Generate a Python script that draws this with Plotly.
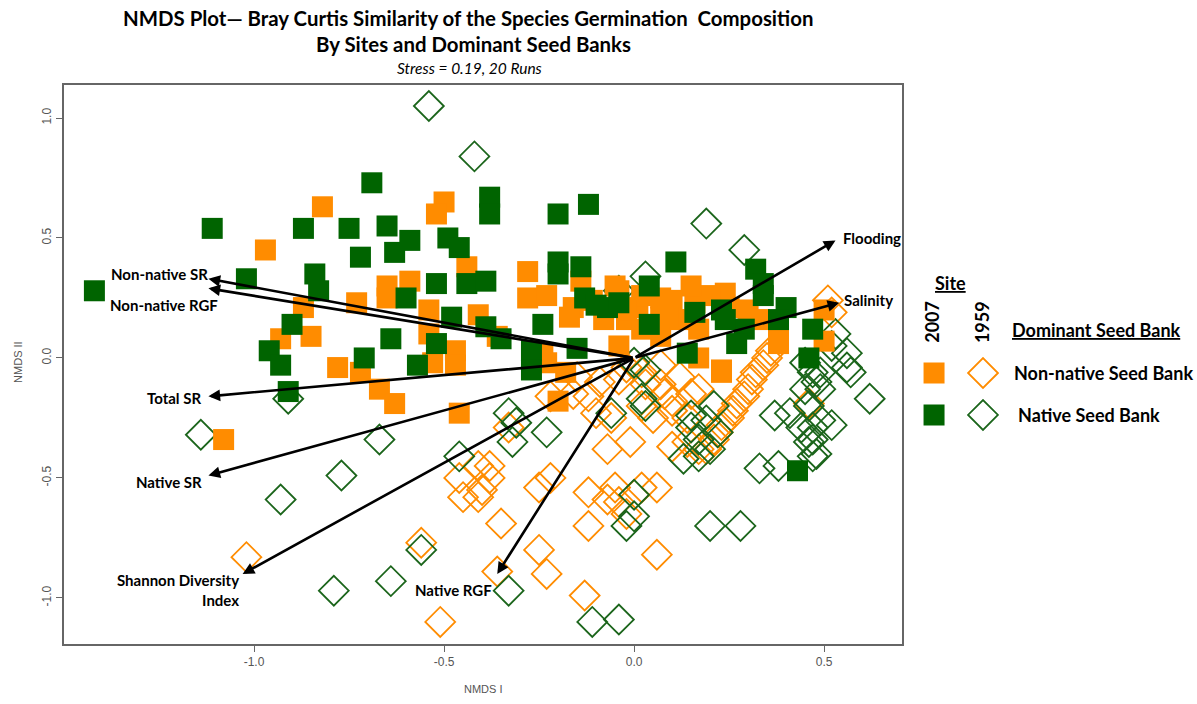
import plotly.graph_objects as go

# ---------------- data (NMDS scores) ----------------
# 2007 site, Non-native dominant seed bank (filled orange squares)
nn07_x = [-0.97, -0.82, -0.87, -0.93, -0.85, -1.08, -0.73, -0.78, -0.72, -0.67, -0.63, -0.65, -0.59, -0.65,
          -0.54, -0.54, -0.53, -0.47, -0.50, -0.52, -0.44, -0.41, -0.36, -0.47, -0.46, -0.28, -0.28, -0.23,
          -0.14, -0.16, -0.17, -0.24, -0.20, -0.18, -0.23, -0.05, -0.04, -0.02, 0.01, 0.07, 0.07, 0.10, 0.16,
          0.07, 0.04, 0.17, 0.23, 0.25, 0.30, 0.38, 0.38, 0.50, 0.50, -0.04, 0.24, 0.17, 0.23, 0.02, -0.08,
          0.12, 0.20, 0.15, 0.33, 0.02, -0.11, -0.02, 0.09]
nn07_y = [0.45, 0.63, 0.21, 0.08, 0.09, -0.34, 0.23, -0.04, -0.06, -0.13, -0.19, 0.30, 0.32, 0.25,
          0.20, 0.10, -0.02, 0.03, 0.65, 0.60, 0.38, 0.18, 0.09, -0.03, -0.23, 0.36, 0.25, 0.26,
          0.32, 0.21, 0.17, 0.02, -0.18, -0.06, -0.02, 0.30, 0.28, 0.16, 0.21, 0.25, 0.17, 0.24, 0.23,
          0.09, 0.13, 0.12, -0.05, 0.21, 0.20, 0.06, 0.10, 0.07, 0.20, 0.05, 0.27, 0.00, -0.06, 0.26, 0.16,
          0.16, 0.26, 0.30, 0.16, 0.12, 0.24, 0.20, 0.17]

# 2007 site, Native dominant seed bank (filled green squares)
nat07_x = [-1.42, -1.11, -1.02, -0.87, -0.84, -0.83, -0.90, -0.96, -0.93, -0.91, -0.69, -0.75, -0.65, -0.59,
           -0.63, -0.72, -0.38, -0.38, -0.49, -0.46, -0.20, -0.12, -0.60, -0.52, -0.44, -0.39, -0.48, -0.52,
           -0.57, -0.64, -0.71, -0.39, -0.35, -0.20, -0.20, -0.14, -0.13, -0.10, -0.24, -0.15, -0.27, -0.27,
           0.11, 0.32, 0.34, 0.34, 0.40, 0.38, 0.29, 0.23, 0.16, 0.14, -0.07, -0.04, 0.04, 0.04, 0.27, 0.47,
           0.46, 0.43, 0.24]
nat07_y = [0.28, 0.54, 0.33, 0.54, 0.35, 0.28, 0.14, 0.03, -0.03, -0.14, 0.73, 0.54, 0.55, 0.49,
           0.44, 0.42, 0.67, 0.60, 0.50, 0.46, 0.60, 0.64, 0.25, 0.31, 0.31, 0.32, 0.17, 0.06,
           -0.03, 0.08, 0.00, 0.13, 0.08, 0.40, 0.35, 0.38, 0.25, 0.22, 0.14, 0.04, 0.03, -0.05,
           0.40, 0.37, 0.31, 0.26, 0.21, 0.16, 0.12, 0.20, 0.19, 0.02, 0.21, 0.23, 0.30, 0.14, 0.06, 0.12,
           0.00, -0.47, 0.16]

# 1959 site, Non-native dominant seed bank (open orange diamonds)
nn59_x = [-1.02, -0.33, -0.41, -0.38, -0.46, -0.45, -0.41, -0.35, -0.25, -0.22, -0.25, -0.56, -0.12, -0.12,
          -0.07, -0.07, -0.01, -0.10, -0.12, -0.22, -0.15, -0.09, -0.04, 0.02, 0.03, 0.02, -0.04, -0.02,
          0.06, -0.51, -0.36, -0.23, -0.13, 0.06, 0.10, 0.07, 0.12, 0.02, -0.16, -0.06, -0.05, 0.10, 0.14,
          0.17, 0.17, 0.46, 0.51, 0.52, -0.38, -0.40, -0.02, 0.07, 0.15, 0.08, 0.10, 0.05, 0.14,
          0.19, 0.21, 0.22, 0.23, 0.25, 0.26, 0.27, 0.29, 0.30, 0.31, 0.32, 0.34, 0.35, 0.36]
nn59_y = [-0.83, -0.29, -0.45, -0.50, -0.50, -0.58, -0.58, -0.69, -0.54, -0.50, -0.80, -0.77, -0.56, -0.70,
          -0.59, -0.38, -0.35, -0.23, -0.16, -0.16, -0.08, -0.10, -0.09, -0.20, -0.11, -0.54, -0.60, -0.65,
          -0.54, -1.10, -0.89, -0.90, -0.99, -0.82, -0.18, -0.11, -0.08, -0.06, -0.15, -0.25, -0.54, -0.37, -0.25,
          -0.38, -0.13, -0.19, 0.24, 0.19, -0.45, -0.55, -0.04, -0.03, -0.15, -0.15, -0.22, -0.25, -0.35,
          -0.38, -0.34, -0.31, -0.28, -0.25, -0.22, -0.19, -0.16, -0.13, -0.09, -0.06, -0.03, 0.00, 0.03]

# 1959 site, Native dominant seed bank (open green diamonds)
nat59_x = [-0.54, -0.42, 0.19, 0.29, 0.03, -0.04, -0.91, -1.14, -0.93, -0.67, -0.77, -0.46, -0.33, -0.31,
           -0.23, -0.32, -0.56, -0.64, -0.79, -0.33, -0.11, -0.04, 0.00, -0.02, 0.20, 0.28, 0.62, 0.33,
           0.38, 0.37, 0.41, 0.46, 0.46, 0.48, 0.52, 0.47, 0.49, 0.56, 0.57, 0.48, 0.03, 0.02, 0.15,
           0.17, 0.13, 0.20, 0.22, 0.19, 0.21, 0.53, 0.56, 0.45, 0.49, 0.47, 0.45, 0.49, 0.47, 0.47,
           0.15, 0.17, -0.06, 0.00, 0.00, 0.03, 0.44, 0.52]
nat59_y = [1.05, 0.84, 0.56, 0.45, 0.34, 0.28, -0.17, -0.32, -0.59, -0.34, -0.49, -0.41, -0.23, -0.27,
           -0.31, -0.35, -0.80, -0.93, -0.97, -0.97, -1.10, -1.09, -0.66, -0.70, -0.70, -0.70, -0.17, -0.46,
           -0.45, -0.24, -0.23, -0.20, -0.35, -0.40, -0.28, -0.29, -0.06, -0.04, -0.06, -0.10, -0.20, -0.17, -0.24,
           -0.41, -0.42, -0.38, -0.31, -0.26, -0.20, 0.10, 0.02, -0.13, -0.13, -0.06, -0.02, -0.26, -0.34, -0.41,
           -0.29, -0.34, -0.23, -0.02, -0.57, -0.05, -0.29, 0.05]

# Environmental / diversity vectors (arrow tips)
vec_names = ["Flooding", "Salinity", "Non-native SR", "Non-native RGF", "Total SR", "Native SR",
             "Shannon Diversity<br>Index", "Native RGF"]
vec_x = [0.53, 0.54, -1.12, -1.12, -1.12, -1.12, -1.03, -0.36]
vec_y = [0.49, 0.23, 0.33, 0.29, -0.16, -0.49, -0.90, -0.90]

x_ticks = [-1.0, -0.5, 0.0, 0.5]
x_ticklabels = ["-1.0", "-0.5", "0.0", "0.5"]
y_ticks = [-1.0, -0.5, 0.0, 0.5, 1.0]
y_ticklabels = ["-1.0", "-0.5", "0.0", "0.5", "1.0"]

# ---------------- styling / layout ----------------
ORANGE = "#FF8C00"
GREEN = "#006400"
GREEN_OPEN = "#1B651B"
LABEL_FONT = dict(family="Lato, Liberation Sans, sans-serif", size=15, color="black")

# label placement (position, anchor) for each vector label, in data units
label_pos = {
    "Flooding": (0.545, 0.50, "left"),
    "Salinity": (0.547, 0.24, "left"),
    "Non-native SR": (-1.115, 0.35, "right"),
    "Non-native RGF": (-1.385, 0.22, "left"),
    "Total SR": (-1.134, -0.165, "right"),
    "Native SR": (-1.132, -0.515, "right"),
    "Shannon Diversity<br>Index": (-1.035, -0.965, "right"),
    "Native RGF": (-0.474, -0.967, "center"),
}

fig = go.Figure()

open_style = dict(size=23, line=dict(width=1.8))
fig.add_trace(go.Scatter(x=nn59_x, y=nn59_y, mode="markers", name="1959 Non-native",
                         marker=dict(symbol="diamond-open", color=ORANGE, **open_style)))
fig.add_trace(go.Scatter(x=nat59_x, y=nat59_y, mode="markers", name="1959 Native",
                         marker=dict(symbol="diamond-open", color=GREEN_OPEN, **open_style)))
fig.add_trace(go.Scatter(x=nn07_x, y=nn07_y, mode="markers", name="2007 Non-native",
                         marker=dict(symbol="square", size=21, color=ORANGE, line=dict(width=0))))
fig.add_trace(go.Scatter(x=nat07_x, y=nat07_y, mode="markers", name="2007 Native",
                         marker=dict(symbol="square", size=21, color=GREEN, line=dict(width=0))))

# custom legend markers on a hidden auxiliary axis placed in the right margin area
leg_x = [0.05, 0.231]
leg_rows = [0.4848, 0.4097]
fig.add_trace(go.Scatter(x=[leg_x[0]], y=[leg_rows[0]], xaxis="x2", yaxis="y2", mode="markers",
                         marker=dict(symbol="square", size=21, color=ORANGE)))
fig.add_trace(go.Scatter(x=[leg_x[1]], y=[leg_rows[0]], xaxis="x2", yaxis="y2", mode="markers",
                         marker=dict(symbol="diamond-open", color=ORANGE, **open_style)))
fig.add_trace(go.Scatter(x=[leg_x[0]], y=[leg_rows[1]], xaxis="x2", yaxis="y2", mode="markers",
                         marker=dict(symbol="square", size=21, color=GREEN)))
fig.add_trace(go.Scatter(x=[leg_x[1]], y=[leg_rows[1]], xaxis="x2", yaxis="y2", mode="markers",
                         marker=dict(symbol="diamond-open", color=GREEN_OPEN, **open_style)))

# arrows from origin
for name, vx, vy in zip(vec_names, vec_x, vec_y):
    fig.add_annotation(x=vx, y=vy, ax=0, ay=0, xref="x", yref="y", axref="x", ayref="y",
                       text="", showarrow=True, arrowhead=2, arrowsize=0.9, arrowwidth=2.6,
                       arrowcolor="black")
    lx, ly, anc = label_pos[name]
    fig.add_annotation(x=lx, y=ly, xref="x", yref="y", text="<b>%s</b>" % name, showarrow=False,
                       xanchor=anc, yanchor="middle", align="right", font=LABEL_FONT)

# titles
TFONT = "Lato, Liberation Sans, sans-serif"
fig.add_annotation(x=0.3585, y=1.12, xref="paper", yref="paper", showarrow=False,
                   text="<b>NMDS Plot\u2014 Bray Curtis Similarity of the Species Germination  Composition</b>",
                   font=dict(family=TFONT, size=20.4, color="black"), xanchor="center", yanchor="middle")
fig.add_annotation(x=0.363, y=1.0733, xref="paper", yref="paper", showarrow=False,
                   text="<b>By Sites and Dominant Seed Banks</b>",
                   font=dict(family=TFONT, size=20.4, color="black"), xanchor="center", yanchor="middle")
fig.add_annotation(x=0.360, y=1.0304, xref="paper", yref="paper", showarrow=False,
                   text="<i>Stress = 0.19, 20 Runs</i>",
                   font=dict(family=TFONT, size=15.5, color="black"), xanchor="center", yanchor="middle")

# axis titles
fig.add_annotation(x=0.3718, y=-0.0948, xref="paper", yref="paper", showarrow=False, text="NMDS I",
                   font=dict(family="Liberation Sans, Arial", size=11, color="#555555"))
fig.add_annotation(x=-0.048, y=0.5045, xref="paper", yref="paper", showarrow=False, text="NMDS II",
                   textangle=-90, font=dict(family="Liberation Sans, Arial", size=11, color="#555555"))

# legend texts
LFONT = dict(family=TFONT, size=18, color="black")
fig.add_annotation(x=0.787, y=0.6458, xref="paper", yref="paper", showarrow=False,
                   text="<b><u>Site</u></b>", font=LFONT, xanchor="center", yanchor="middle")
fig.add_annotation(x=0.770, y=0.576, xref="paper", yref="paper", showarrow=False, textangle=-90,
                   text="<b>2007</b>", font=LFONT, xanchor="center", yanchor="middle")
fig.add_annotation(x=0.8146, y=0.576, xref="paper", yref="paper", showarrow=False, textangle=-90,
                   text="<b>1959</b>", font=LFONT, xanchor="center", yanchor="middle")
fig.add_annotation(x=0.8394, y=0.5617, xref="paper", yref="paper", showarrow=False,
                   text="<b><u>Dominant Seed Bank</u></b>", font=LFONT, xanchor="left", yanchor="middle")
fig.add_annotation(x=0.8412, y=0.4848, xref="paper", yref="paper", showarrow=False,
                   text="<b>Non-native Seed Bank</b>", font=LFONT, xanchor="left", yanchor="middle")
fig.add_annotation(x=0.8447, y=0.4097, xref="paper", yref="paper", showarrow=False,
                   text="<b>Native Seed Bank</b>", font=LFONT, xanchor="left", yanchor="middle")

axis_common = dict(showgrid=False, zeroline=False, showline=True, mirror=True, linecolor="#666666",
                   linewidth=1.5, ticks="outside", ticklen=6, tickcolor="#666666", tickwidth=1,
                   tickfont=dict(family="Liberation Sans, Arial", size=12, color="#555555"))

fig.update_layout(
    width=1197, height=704,
    margin=dict(l=64, r=6, t=85, b=60),
    paper_bgcolor="white", plot_bgcolor="white",
    showlegend=False,
    xaxis=dict(domain=[0, 0.74357], range=[-1.5, 0.705], tickvals=x_ticks, ticktext=x_ticklabels,
               **axis_common),
    yaxis=dict(domain=[0, 1], range=[-1.192, 1.1375], tickvals=y_ticks, ticktext=y_ticklabels,
               tickangle=-90, **axis_common),
    xaxis2=dict(domain=[0.76, 1.0], range=[0, 1], visible=False, anchor="y2"),
    yaxis2=dict(domain=[0, 1], range=[0, 1], visible=False, anchor="x2"),
)

fig.write_html("out.html")
